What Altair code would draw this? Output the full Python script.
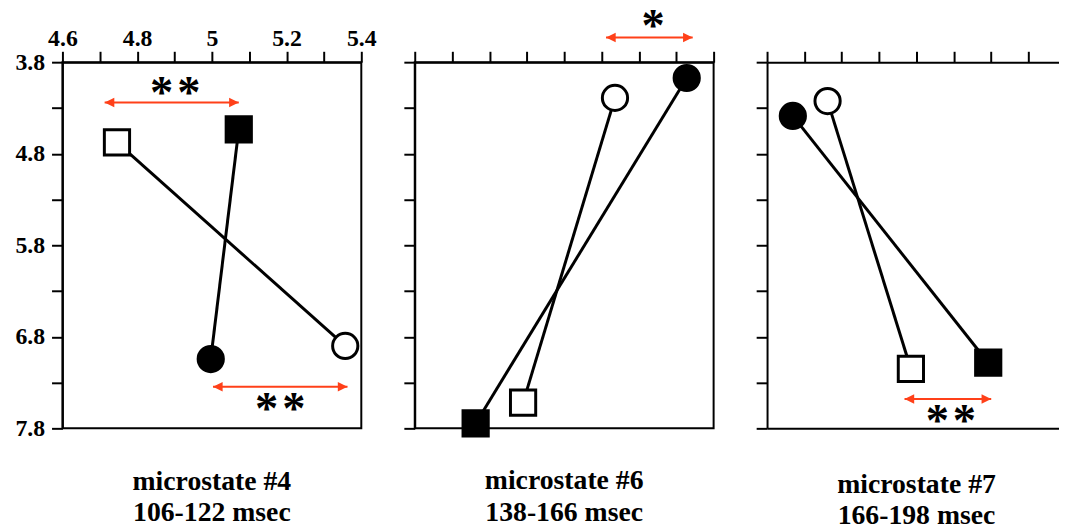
import altair as alt
import pandas as pd

# ---------------- data ----------------
panel_names = ["microstate #4", "microstate #6", "microstate #7"]
panel_windows = ["106-122 msec", "138-166 msec", "166-198 msec"]

open_square_x = [4.746, 4.890, 4.985]
open_square_y = [4.676, 7.519, 7.151]
filled_square_x = [5.072, 4.763, 5.192]
filled_square_y = [4.535, 7.746, 7.083]
open_circle_x = [5.357, 5.136, 4.762]
open_circle_y = [6.900, 4.190, 4.225]
filled_circle_x = [4.997, 5.328, 4.669]
filled_circle_y = [7.043, 3.973, 4.387]

sig_panel = [0, 0, 1, 2]
sig_x1 = [4.713, 5.003, 5.112, 4.968]
sig_x2 = [5.072, 5.363, 5.344, 5.200]
sig_y = [4.24, 7.346, 3.530, 7.479]
sig_label = ["*\u200a*", "*\u200a*", "*", "*\u200a*"]
sig_label_x = [4.902, 5.183, 5.238, 5.092]
sig_label_y = [4.07, 7.529, 3.346, 7.659]

x_ticks = [4.6, 4.7, 4.8, 4.9, 5.0, 5.1, 5.2, 5.3, 5.4]
x_label_values = [4.6, 4.8, 5.0, 5.2, 5.4]
y_ticks = [3.8, 4.3, 4.8, 5.3, 5.8, 6.3, 6.8, 7.3, 7.8]
y_label_values = [3.8, 4.8, 5.8, 6.8, 7.8]

X_MIN, X_MAX = 4.6, 5.4
Y_MIN, Y_MAX = 3.8, 7.8

# ---------------- tables ----------------
rows = []
for p in range(3):
    rows.append(dict(panel=p, x=open_square_x[p], y=open_square_y[p], shape="square", fill="open"))
    rows.append(dict(panel=p, x=filled_square_x[p], y=filled_square_y[p], shape="square", fill="filled"))
    rows.append(dict(panel=p, x=open_circle_x[p], y=open_circle_y[p], shape="circle", fill="open"))
    rows.append(dict(panel=p, x=filled_circle_x[p], y=filled_circle_y[p], shape="circle", fill="filled"))
points = pd.DataFrame(rows)

sig = pd.DataFrame(dict(panel=sig_panel, x1=sig_x1, x2=sig_x2, y=sig_y,
                        label=sig_label, lx=sig_label_x, ly=sig_label_y))

RED = "#FF4019"
FONT = "Liberation Serif"

x_lab_expr = ("indexof([" + ",".join(str(round(v * 10)) for v in x_label_values) +
              "], round(datum.value*10)) >= 0 ? format(datum.value, '~g') : ''")
y_lab_expr = ("indexof([" + ",".join(str(round(v * 10)) for v in y_label_values) +
              "], round(datum.value*10)) >= 0 ? format(datum.value, '.1f') : ''")

panel_widths = [302, 302, 295]
title_offsets = [50, 48, 48]
PLOT_H = 370


def make_panel(p):
    w = panel_widths[p]
    xmax = X_MIN + (X_MAX - X_MIN) * w / 302.0
    show = p == 0
    xs = alt.Scale(domain=[X_MIN, xmax], nice=False, zero=False)
    ys = alt.Scale(domain=[Y_MIN, Y_MAX], nice=False, zero=False, reverse=True)
    top_axis = alt.Axis(orient="top", values=[v for v in x_ticks if v <= xmax + 1e-9],
                        tickSize=11, tickWidth=2, tickColor="black",
                        domainWidth=2, domainColor="black", grid=False, title=None,
                        labels=show, labelExpr=x_lab_expr, labelFont=FONT,
                        labelFontWeight="bold", labelFontSize=24, labelColor="black",
                        labelBaseline="alphabetic", labelPadding=6,
                        labelFlush=False, labelOverlap=False)
    left_axis = alt.Axis(orient="left", values=y_ticks,
                         tickSize=11, tickWidth=2, tickColor="black",
                         domainWidth=2, domainColor="black", grid=False, title=None,
                         labels=show, labelExpr=y_lab_expr, labelFont=FONT,
                         labelFontWeight="bold", labelFontSize=24, labelColor="black",
                         labelPadding=7, labelOverlap=False, labelFlush=False)
    bottom_axis = alt.Axis(orient="bottom", ticks=False, labels=False, grid=False,
                           title=None, domainWidth=2, domainColor="black")

    indep = p == 2

    def xax(role):
        if not indep:
            return top_axis
        if role == "top":
            return top_axis
        if role == "bottom":
            return bottom_axis
        return None

    pdat = points[points.panel == p]
    sdat = sig[sig.panel == p]

    def X(field, role="none"):
        return alt.X(field, scale=xs, axis=xax(role))

    def Y(field):
        return alt.Y(field, scale=ys, axis=left_axis)

    lines = alt.Chart(pdat).mark_line(color="black", strokeWidth=3).encode(
        x=X("x:Q", "top"), y=Y("y:Q"), detail="fill:N",
    )
    marks = alt.Chart(pdat).mark_point(filled=True, stroke="black", strokeWidth=3,
                                       size=650, opacity=1).encode(
        x=X("x:Q"), y=Y("y:Q"),
        shape=alt.Shape("shape:N", scale=alt.Scale(domain=["square", "circle"],
                                                   range=["square", "circle"]), legend=None),
        fill=alt.Fill("fill:N", scale=alt.Scale(domain=["open", "filled"],
                                                range=["white", "black"]), legend=None),
    )
    rule = alt.Chart(sdat).mark_rule(color=RED, strokeWidth=2).encode(
        x=X("x1:Q", "bottom"), x2="x2:Q", y=Y("y:Q"),
    )
    head_l = alt.Chart(sdat).mark_point(shape="M0,0L1,-0.5L1,0.5Z", filled=True,
                                        color=RED, size=380, opacity=1).encode(
        x=X("x1:Q"), y=Y("y:Q"),
    )
    head_r = alt.Chart(sdat).mark_point(shape="M0,0L-1,-0.5L-1,0.5Z", filled=True,
                                        color=RED, size=380, opacity=1).encode(
        x=X("x2:Q"), y=Y("y:Q"),
    )
    stars = alt.Chart(sdat).mark_text(font=FONT, fontSize=47, fontWeight="bold",
                                      color="black", baseline="alphabetic",
                                      align="center", dy=21).encode(
        x=X("lx:Q"), y=Y("ly:Q"), text="label:N",
    )
    layer = alt.layer(lines, marks, rule, head_l, head_r, stars)
    if indep:
        layer = layer.resolve_axis(x="independent")
        view = alt.ViewBackground(strokeOpacity=0)
    else:
        view = alt.ViewBackground(stroke="black", strokeWidth=2)
    return layer.properties(
        width=w, height=PLOT_H, view=view,
        title=alt.TitleParams(text=[panel_names[p], panel_windows[p]], orient="bottom",
                              anchor="middle", font=FONT, fontSize=28, fontWeight="bold",
                              color="black", lineHeight=32, baseline="alphabetic",
                              offset=title_offsets[p], dx=3.5 if p == 2 else 0),
    )


chart = alt.hconcat(make_panel(0), make_panel(1), make_panel(2),
                    spacing=54, bounds="flush").properties(
    padding={"left": 6, "top": -8, "right": 0, "bottom": 0},
    background="white",
).configure_view(stroke="black", strokeWidth=2)

chart.save("out.html", embed_options={"renderer": "svg", "actions": False})
